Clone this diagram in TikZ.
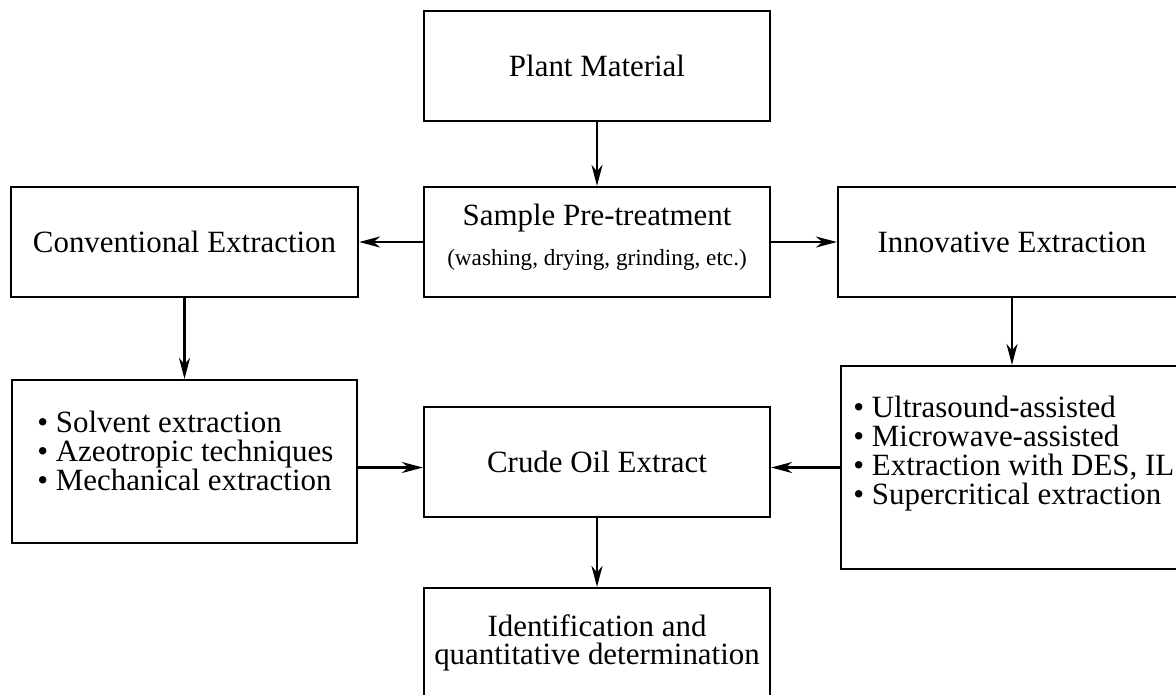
\documentclass[tikz,border=0pt]{standalone}
\usepackage{fontspec}
\setmainfont{Liberation Serif}
\usepackage{tikz}
\usetikzlibrary{arrows.meta}

\begin{document}
\begin{tikzpicture}[x=0.02cm, y=-0.02cm,
    >={Stealth[length=4.2mm, width=2.2mm, inset=1.3mm]},
    procbox/.style={draw, line width=1.3pt, minimum width=6.92cm, minimum height=2.2cm,
        inner sep=0pt, align=center, font=\fontsize{17.6}{15.9}\selectfont},
    listitem/.style={anchor=base west, inner sep=0pt, font=\fontsize{17.6}{15.9}\selectfont},
    flow/.style={->, line width=1.3pt}]
    % 0. Frame
    \useasboundingbox (0,0) rectangle (1176,694);
    \clip (0,0) rectangle (1176,694);

    % 1. Middle column
    \node[procbox] (plant) at (597,66) {Plant Material};
    \node[procbox] (pretreat) at (597,242) {};
    \node[anchor=base, inner sep=0pt, font=\fontsize{17.6}{15.9}\selectfont] (pretitle) at (597,225) {Sample Pre-treatment};
    \node[anchor=base, inner sep=0pt, font=\fontsize{13.2}{15}\selectfont] (prenote) at (597,265) {(washing, drying, grinding, etc.)};
    \node[procbox] (crude) at (597,462) {Crude Oil Extract};
    \node[procbox] (ident) at (597,643) {Identification and\\quantitative determination};

    % 2. Left column
    \node[procbox, minimum width=6.94cm] (conv) at (184.5,242) {Conventional Extraction};
    \node[procbox, minimum width=6.9cm, minimum height=3.26cm] (convlist) at (184.5,461.5) {};
    \foreach \txt [count=\i] in {Solvent extraction, Azeotropic techniques, Mechanical extraction} {
        \node[listitem] (conv\i) at (37,403+29*\i) {\textbullet\ \txt};
    }

    % 3. Right column
    \node[procbox, minimum width=6.96cm] (innov) at (1012,242) {Innovative Extraction};
    \node[procbox, minimum width=6.76cm, minimum height=4.06cm] (innovlist) at (1010,467.5) {};
    \foreach \txt [count=\i] in {Ultrasound-assisted, Microwave-assisted, {Extraction with DES, IL}, Supercritical extraction} {
        \node[listitem] (innov\i) at (853,388+29*\i) {\textbullet\ \txt};
    }

    % 4. Arrows
    \draw[flow] (plant) -- (pretreat);
    \draw[flow] (pretreat) -- (conv);
    \draw[flow] (pretreat) -- (innov);
    \draw[flow] (conv) -- (convlist);
    \draw[flow] (innov.south) -- (innov.south |- innovlist.north);
    \draw[flow] (convlist.east |- innovlist.west) -- (crude.west |- innovlist.west);
    \draw[flow] (innovlist.west) -- (innovlist.west -| crude.east);
    \draw[flow] (crude) -- (ident);
\end{tikzpicture}
\end{document}
